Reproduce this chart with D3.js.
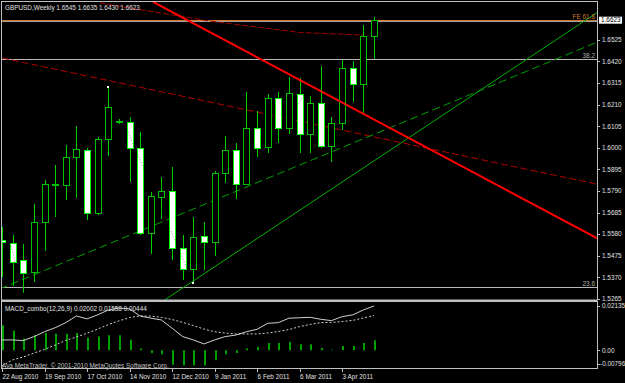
<!DOCTYPE html>
<html>
<head>
<meta charset="utf-8">
<script src="https://cdn.jsdelivr.net/npm/d3@7"></script>
<style>
    body { margin: 0; background: #000; }
    svg { display: block; }
    text { font-family: "Liberation Sans", Arial, sans-serif; font-size: 6.4px; fill: #e0e0e0; }
</style>
</head>
<body>
<div id="chart"></div>
<script>
// Weekly GBPUSD bars, 22 Aug 2010 .. 24 Apr 2011
const open  = [1.5554,1.5536,1.5455,1.5394,1.5641,1.5821,1.5818,1.5954,1.5989,1.5682,1.6041,1.6125,1.6124,1.5998,1.5587,1.5762,1.5791,1.5511,1.5409,1.5571,1.5541,1.5876,1.5989,1.5823,1.6095,1.6002,1.6244,1.6095,1.6260,1.6066,1.6216,1.6009,1.6119,1.6387,1.6309,1.6545];
const high  = [1.5615,1.5576,1.5532,1.5727,1.5843,1.5916,1.6014,1.6106,1.5997,1.6054,1.6297,1.6140,1.6151,1.6078,1.5784,1.5860,1.5908,1.5576,1.5662,1.5641,1.5887,1.6057,1.6022,1.6273,1.6180,1.6260,1.6271,1.6343,1.6338,1.6252,1.6398,1.6148,1.6427,1.6422,1.6597,1.6635];
const low   = [1.5372,1.5328,1.5294,1.5348,1.5500,1.5666,1.5746,1.5755,1.5649,1.5673,1.5960,1.6116,1.5835,1.5576,1.5484,1.5652,1.5455,1.5357,1.5344,1.5406,1.5474,1.5830,1.5750,1.5819,1.5957,1.5976,1.6025,1.6067,1.5973,1.5973,1.5998,1.5932,1.6087,1.6224,1.6168,1.6430];
const close = [1.5542,1.5447,1.5393,1.5641,1.5823,1.5825,1.5957,1.5993,1.5682,1.6043,1.6200,1.6128,1.5998,1.5587,1.5766,1.5791,1.5511,1.5409,1.5568,1.5541,1.5876,1.5989,1.5824,1.6095,1.5998,1.6244,1.6095,1.6265,1.6067,1.6216,1.6009,1.6119,1.6387,1.6310,1.6544,1.6623];

// MACD_combo(12,26,9)
const macd   = [0.0047,0.0047,0.0044,0.0062,0.0084,0.0102,0.0125,0.0155,0.0142,0.0160,0.0182,0.0191,0.0187,0.0155,0.0145,0.0137,0.0100,0.0062,0.0047,0.0029,0.0047,0.0062,0.0069,0.0084,0.0095,0.0122,0.0125,0.0145,0.0147,0.0149,0.0140,0.0134,0.0152,0.0160,0.0182,0.0200];
const signal = [-0.0070,-0.0043,-0.0030,-0.0012,0.0004,0.0024,0.0045,0.0060,0.0077,0.0096,0.0116,0.0133,0.0148,0.0155,0.0154,0.0149,0.0139,0.0126,0.0112,0.0096,0.0084,0.0078,0.0074,0.0074,0.0074,0.0078,0.0085,0.0094,0.0107,0.0117,0.0125,0.0126,0.0130,0.0135,0.0146,0.0157];
const hist   = [0.0113,0.0090,0.0053,0.0068,0.0078,0.0075,0.0075,0.0078,0.0057,0.0063,0.0068,0.0068,0.0048,0.0008,-0.0012,-0.0018,-0.0065,-0.0068,-0.0068,-0.0068,-0.0045,-0.0018,-0.0012,0.0008,0.0015,0.0033,0.0033,0.0038,0.0027,0.0027,0.0011,0.0003,0.0020,0.0020,0.0033,0.0045];

// axis labels
const dateTickBars = [0, 4, 8, 12, 16, 20, 24, 28, 32];
const dateLabels = ["22 Aug 2010", "19 Sep 2010", "17 Oct 2010", "14 Nov 2010", "12 Dec 2010", "9 Jan 2011", "6 Feb 2011", "6 Mar 2011", "3 Apr 2011"];
const priceTicks = [1.6525, 1.6420, 1.6315, 1.6210, 1.6105, 1.6000, 1.5895, 1.5790, 1.5685, 1.5580, 1.5475, 1.5370, 1.5265];
const macdTicks = [0.02135, 0.00, -0.00796];
const macdTickLabels = ["0.02135", "0.00", "-0.00796"];

// chart objects: [bar, price]
const redTrend = [[14.2, 1.6710], [56, 1.5560]];
const redDashed = [[0, 1.6437], [56, 1.5823]];
const feLine = [[9.2, 1.6704], [19.6, 1.6616], [28.0, 1.6561], [34.0, 1.6548]];
const greenTrend = [[15.3, 1.5260], [56, 1.6658]];
const greenDashed = [[-0.2, 1.5314], [56, 1.6514]];
const zigzag = [[-1, 1.5890], [2, 1.5294], [10, 1.6297], [18, 1.5344], [30, 1.6398]];
const zigzagMarks = [[10, 1.6297], [18, 1.5344]];
const fibLevels = [1.6622, 1.6430, 1.5323];
const fibLabels = ["FE 61.8", "38.2", "23.6"];

const width = 625, height = 383;
const left = 1, right = 597;
const mainTop = 2, mainBottom = 300;
const subTop = 302, subBottom = 369;

const svg = d3.select("#chart").append("svg")
    .attr("width", width)
    .attr("height", height)
    .style("background", "#000");

// scales
const x = d3.scaleLinear().domain([0, 35]).range([2, 374]);
const y = d3.scaleLinear().domain([1.5260, 1.6709]).range([mainBottom, mainTop]);
const ym = d3.scaleLinear().domain([-0.00796, 0.02135]).range([368, 303]);

svg.append("clipPath").attr("id", "mainClip")
    .append("rect").attr("x", left).attr("y", mainTop).attr("width", right - left).attr("height", mainBottom - mainTop);
svg.append("clipPath").attr("id", "subClip")
    .append("rect").attr("x", left).attr("y", subTop).attr("width", right - left).attr("height", subBottom - subTop);

const main = svg.append("g").attr("clip-path", "url(#mainClip)");
// black backdrop so the zigzag blend has something to multiply with
main.append("rect").attr("x", 0).attr("y", 0).attr("width", width).attr("height", mainBottom).attr("fill", "#000");
const lineGen = d3.line().x(d => x(d[0])).y(d => y(d[1]));

// fibo levels and bid line
main.selectAll("line.fib").data(fibLevels).enter().append("line")
    .attr("x1", left).attr("x2", right)
    .attr("y1", d => Math.round(y(d)) + 0.5).attr("y2", d => Math.round(y(d)) + 0.5)
    .attr("stroke", (d, i) => i === 0 ? "#cc7a30" : "#b8b8b8")
    .attr("stroke-width", 1);
main.append("line")
    .attr("x1", left).attr("x2", right)
    .attr("y1", Math.round(y(1.6616)) + 0.5).attr("y2", Math.round(y(1.6616)) + 0.5)
    .attr("stroke", "#a0a0a0");

// trend lines
main.append("path").attr("d", lineGen(feLine)).attr("fill", "none")
    .attr("stroke", "#a00000").attr("stroke-width", 1).attr("stroke-dasharray", "6,2");
main.append("path").attr("d", lineGen(redDashed)).attr("fill", "none")
    .attr("stroke", "#b00000").attr("stroke-width", 1).attr("stroke-dasharray", "7,3");
main.append("path").attr("d", lineGen(greenTrend)).attr("fill", "none")
    .attr("stroke", "#00b000").attr("stroke-width", 1);
main.append("path").attr("d", lineGen(greenDashed)).attr("fill", "none")
    .attr("stroke", "#00a000").attr("stroke-width", 1).attr("stroke-dasharray", "8,4");

// candles
const bars = d3.range(open.length);
const px = i => Math.round(x(i)) + 0.5;

main.selectAll("line.wick").data(bars).enter().append("line")
    .attr("x1", px).attr("x2", px)
    .attr("y1", i => Math.round(y(high[i]))).attr("y2", i => Math.round(y(low[i])))
    .attr("stroke", "#00d000").attr("stroke-width", 1);

main.selectAll("rect.body").data(bars).enter().append("rect")
    .attr("x", i => px(i) - 3)
    .attr("y", i => Math.round(y(Math.max(open[i], close[i]))) + 0.5)
    .attr("width", 6)
    .attr("height", i => Math.max(1, Math.round(y(Math.min(open[i], close[i]))) - Math.round(y(Math.max(open[i], close[i])))))
    .attr("fill", i => close[i] >= open[i] ? "#000" : "#fff")
    .attr("stroke", i => close[i] >= open[i] ? "#00c000" : "#00ff00")
    .attr("stroke-width", 1);

main.append("path").attr("d", lineGen(zigzag)).attr("fill", "none")
    .attr("stroke", "#909090").attr("stroke-dasharray", "1,2")
    .style("mix-blend-mode", "multiply");

main.selectAll("rect.mark").data(zigzagMarks).enter().append("rect")
    .attr("x", d => px(d[0]) - 1.5).attr("y", d => Math.round(y(d[1])) - 1)
    .attr("width", 2).attr("height", 2).attr("fill", "#fff");

// red trend on top of candles
main.append("path").attr("d", lineGen(redTrend)).attr("fill", "none")
    .attr("stroke", "#ff0000").attr("stroke-width", 2);

// level labels
svg.selectAll("text.fib").data(fibLevels).enter().append("text")
    .attr("x", 595).attr("y", d => y(d) - 1)
    .attr("text-anchor", "end")
    .style("fill", (d, i) => i === 0 ? "#cc7a30" : "#b0b0b0")
    .text((d, i) => fibLabels[i]);

// MACD window
const sub = svg.append("g").attr("clip-path", "url(#subClip)");
sub.selectAll("line.hist").data(bars).enter().append("line")
    .attr("x1", i => Math.round(x(i)) + 1).attr("x2", i => Math.round(x(i)) + 1)
    .attr("y1", ym(0)).attr("y2", i => ym(hist[i]))
    .attr("stroke", "#00a000").attr("stroke-width", 2);

sub.append("path")
    .attr("d", d3.line().x(i => x(i)).y(i => ym(macd[i]))(bars))
    .attr("fill", "none").attr("stroke", "#d0d0d0").attr("stroke-width", 1);
sub.append("path")
    .attr("d", d3.line().x(i => x(i)).y(i => ym(signal[i]))(bars))
    .attr("fill", "none").attr("stroke", "#d0d0d0").attr("stroke-width", 1).attr("stroke-dasharray", "2,2");

// frames
svg.append("rect").attr("x", left + 0.5).attr("y", mainTop - 0.5).attr("width", right - left).attr("height", mainBottom - mainTop + 0.5)
    .attr("fill", "none").attr("stroke", "#c0c0c0");
svg.append("rect").attr("x", left + 0.5).attr("y", subTop - 0.5).attr("width", right - left).attr("height", subBottom - subTop)
    .attr("fill", "none").attr("stroke", "#c0c0c0");
svg.append("line").attr("x1", left).attr("x2", right).attr("y1", 300.5).attr("y2", 300.5).attr("stroke", "#c0c0c0");

// price axis
const pa = svg.append("g");
pa.selectAll("line").data(priceTicks).enter().append("line")
    .attr("x1", right).attr("x2", right + 3)
    .attr("y1", d => Math.round(y(d)) + 0.5).attr("y2", d => Math.round(y(d)) + 0.5)
    .attr("stroke", "#c0c0c0");
pa.selectAll("text").data(priceTicks).enter().append("text")
    .attr("x", 602).attr("y", d => y(d) + 2.3)
    .text(d => d.toFixed(4));

// current price box
svg.append("rect").attr("x", 599).attr("y", y(close[35]) - 3).attr("width", 23).attr("height", 7).attr("fill", "#fff");
svg.append("text").attr("x", 601).attr("y", y(close[35]) + 2.3).style("fill", "#000").text(close[35].toFixed(4));

// MACD axis
const macdY = d => Math.min(Math.max(ym(d), subTop + 4), subBottom - 5);
svg.selectAll("text.macd").data(macdTicks).enter().append("text")
    .attr("x", d => d < 0 ? 600 : 602)
    .attr("y", d => macdY(d) + 2.3)
    .text((d, i) => macdTickLabels[i]);
svg.selectAll("line.macd").data(macdTicks).enter().append("line")
    .attr("x1", right).attr("x2", right + 3)
    .attr("y1", d => Math.round(macdY(d)) + 0.5).attr("y2", d => Math.round(macdY(d)) + 0.5)
    .attr("stroke", "#c0c0c0");

// date axis
svg.selectAll("line.date").data(dateTickBars).enter().append("line")
    .attr("x1", d => Math.round(x(d)) + 0.5).attr("x2", d => Math.round(x(d)) + 0.5)
    .attr("y1", subBottom).attr("y2", subBottom + 3)
    .attr("stroke", "#c0c0c0");
svg.selectAll("text.date").data(dateTickBars).enter().append("text")
    .attr("x", d => x(d) + 0.5).attr("y", 378.5)
    .text((d, i) => dateLabels[i]);

// titles
svg.append("text").attr("x", 5).attr("y", 9.5)
    .text("GBPUSD,Weekly  1.6545 1.6635 1.6430 1.6623");
svg.append("text").attr("x", 5).attr("y", 311)
    .text("MACD_combo(12,26,9) 0.02002 0.01558 0.00444");
svg.append("text").attr("x", 2).attr("y", 368)
    .style("fill", "#c0c0c0")
    .text("Ava MetaTrader, © 2001-2010 MetaQuotes Software Corp.");
</script>
</body>
</html>
